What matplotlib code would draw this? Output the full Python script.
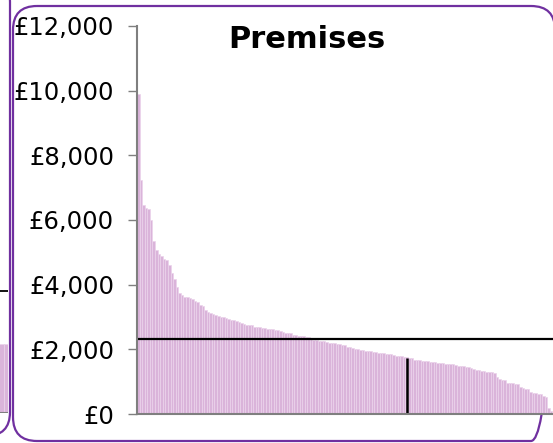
import matplotlib
matplotlib.use("Agg")
import matplotlib.pyplot as plt
from matplotlib.patches import FancyBboxPatch
from matplotlib.ticker import FuncFormatter

# spend per practice, sorted high to low
premises = [9900, 7250, 6460, 6380, 6330, 6000, 5360, 5070, 4950, 4880, 4800,
            4760, 4610, 4370, 4180, 3940, 3750, 3680, 3630, 3610, 3590, 3560,
            3500, 3450, 3370, 3340, 3220, 3150, 3120, 3100, 3060, 3020, 3000,
            2990, 2960, 2940, 2920, 2900, 2880, 2850, 2820, 2780, 2760, 2760, 2750,
            2700, 2700, 2690, 2660, 2650, 2630, 2630, 2620, 2600, 2600, 2570,
            2550, 2510, 2510, 2500, 2450, 2450, 2420, 2410, 2400, 2390, 2370, 2340,
            2290, 2280, 2270, 2260, 2250, 2230, 2200, 2200, 2190, 2180, 2150,
            2130, 2120, 2080, 2060, 2050, 2020, 2000, 1990, 1980, 1960, 1950, 1950,
            1930, 1920, 1900, 1890, 1880, 1870, 1860, 1850, 1840, 1800, 1790,
            1780, 1770, 1750, 1740, 1730, 1680, 1670, 1660, 1650, 1640, 1630, 1620,
            1610, 1600, 1590, 1580, 1580, 1560, 1550, 1540, 1540, 1520, 1500,
            1490, 1470, 1450, 1440, 1410, 1390, 1370, 1360, 1340, 1330, 1310, 1300,
            1290, 1260, 1130, 1070, 1050, 1050, 970, 970, 960, 930, 920, 845,
            815, 775, 770, 690, 660, 650, 620, 610, 560, 515, 195, 100]
mean_line = 2330
marker_pos = 104
marker_height = 1745

# bit of the neighbouring panel that shows at the left edge
neighbour_tail = [2150, 2150, 2140]
neighbour_mean = 3770

W, H = 553, 443
fig = plt.figure(figsize=(W / 100, H / 100), dpi=100)

def px(x0, y0, x1, y1):
    # pixel box (top-left origin) -> figure fractions
    return [x0 / W, 1 - y1 / H, (x1 - x0) / W, (y1 - y0) / H]

# frames
bg = fig.add_axes([0, 0, 1, 1], zorder=-5)
bg.set_xlim(0, W)
bg.set_ylim(H, 0)
bg.axis("off")
bg.add_patch(FancyBboxPatch((13, 6), 542, 435, boxstyle="round,pad=0,rounding_size=24",
                            fill=False, ec="#7030A0", lw=1.6))
bg.add_patch(FancyBboxPatch((-540, -22), 550, 458, boxstyle="round,pad=0,rounding_size=24",
                            fill=False, ec="#7030A0", lw=1.6))

nb = fig.add_axes(px(-5, 26, 8, 413), zorder=-4)
nb.bar(range(len(neighbour_tail)), neighbour_tail, width=1.0,
       color="#DAB4DA", edgecolor="#EBD3EB", lw=0.5)
nb.axhline(neighbour_mean, color="black", lw=1.3)
nb.set_xlim(-0.5, len(neighbour_tail) - 0.5)
nb.set_ylim(0, 12000)
nb.axis("off")
nb.axhline(0, color="#7f7f7f", lw=1.5)

ax = fig.add_axes(px(137, 26, 553, 414))
n = len(premises)
ax.bar(range(n), premises, width=1.0, color="#DAB4DA", edgecolor="#EBD3EB", lw=0.5)
ax.axhline(mean_line, color="black", lw=1.6)
ax.vlines(marker_pos, 0, marker_height, color="black", lw=1.8)

ax.set_xlim(-0.5, n - 0.3)
ax.set_ylim(0, 12000)
ax.set_yticks(range(0, 12001, 2000))
ax.yaxis.set_major_formatter(FuncFormatter(lambda v, p: "£{:,.0f}".format(v)))
ax.tick_params(axis="y", direction="out", length=6.5, width=1, color="#7f7f7f",
               labelsize=17.5, pad=10)
ax.set_xticks([])
for s in ["top", "right"]:
    ax.spines[s].set_visible(False)
for s in ["left", "bottom"]:
    ax.spines[s].set_color("#7f7f7f")
    ax.spines[s].set_linewidth(1.5)

fig.text(307 / W, 1 - 40 / H, "Premises", ha="center", va="center",
         fontsize=22, fontweight="bold")

fig.savefig("out.png", dpi=100)
